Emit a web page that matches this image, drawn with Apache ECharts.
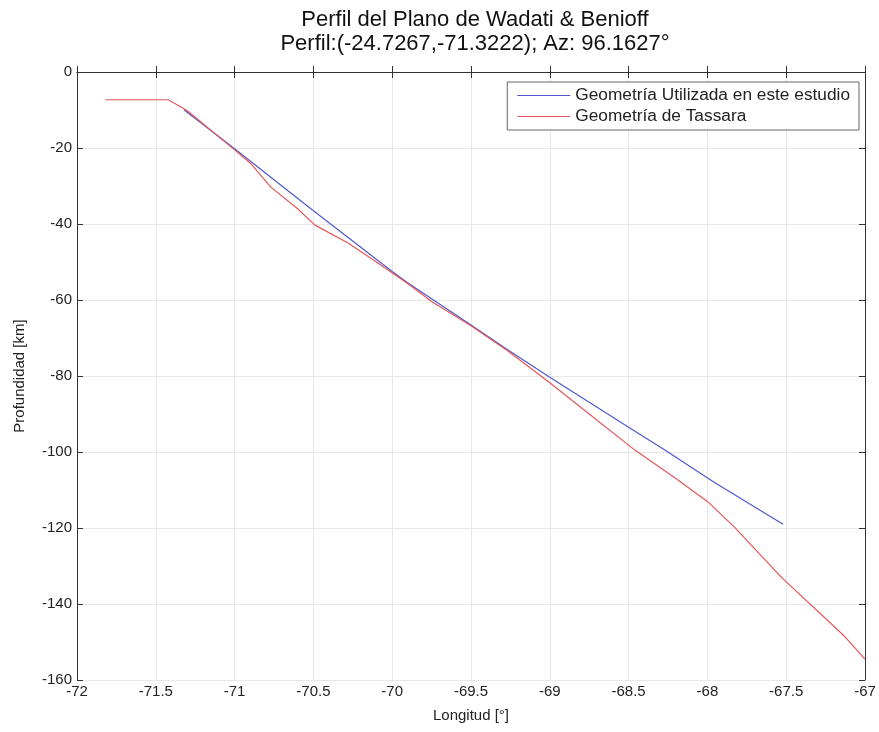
<!DOCTYPE html>
<html>
<head>
<meta charset="utf-8">
<script src="https://cdn.jsdelivr.net/npm/echarts@6/dist/echarts.min.js"></script>
<style>html,body{margin:0;padding:0;background:#fff}#c{width:879px;height:732px}</style>
</head>
<body>
<div id="c"></div>
<script>
const titleText = "Perfil del Plano de Wadati & Benioff\nPerfil:(-24.7267,-71.3222); Az: 96.1627°";
const xAxisName = "Longitud [°]";
const yAxisName = "Profundidad [km]";
const seriesNames = ["Geometría Utilizada en este estudio", "Geometría de Tassara"];
const blueLon = [-71.32, -71.0, -70.5, -70.0, -69.9, -69.5, -69.27, -69.0, -68.5, -68.27, -67.96, -67.52];
const blueDepth = [-10, -20.2, -36.5, -52.5, -55.5, -66.6, -73, -80.3, -93.5, -99.5, -107.9, -119];
const redLon = [-71.82, -71.42, -71.3, -71.0, -70.9, -70.77, -70.6, -70.49, -70.28, -70.1, -69.96, -69.9, -69.75, -69.5, -69.27, -69.0, -68.75, -68.46, -68.2, -68.0, -67.83, -67.53, -67.13, -67.0];
const redDepth = [-7.3, -7.3, -10.2, -20.5, -24, -30.3, -36, -40.3, -45, -50, -54, -55.7, -60.4, -66.8, -73.3, -81.8, -90, -99.5, -107, -113, -119.7, -133, -148.5, -154.5];

const font = "'Liberation Sans', Arial, sans-serif";
const pair = (xs, ys) => xs.map((x, i) => [x, ys[i]]);

const chart = echarts.init(document.getElementById('c'), null, {renderer: 'canvas'});
const gridColor = '#e8e8e8';
const axisCommon = {
  axisLine: {show: true, lineStyle: {color: '#333', width: 1}},
  axisTick: {show: true, inside: true, length: 6, lineStyle: {color: '#333'}},
};
chart.setOption({
  animation: false,
  backgroundColor: '#fff',
  title: {
    text: titleText,
    left: 470, top: 3, textAlign: 'center',
    textStyle: {fontFamily: font, fontSize: 22, fontWeight: 'normal', color: '#111', lineHeight: 24}
  },
  legend: {
    data: seriesNames,
    orient: 'vertical',
    right: 20, top: 82,
    backgroundColor: '#fff',
    borderColor: '#666', borderWidth: 1,
    padding: [5, 9, 5, 10],
    itemGap: 4,
    itemWidth: 53, itemHeight: 1,
    icon: 'rect',
    textStyle: {fontFamily: font, fontSize: 17.3, color: '#222', lineHeight: 17}
  },
  grid: {left: 77, right: 14, top: 72, bottom: 52, containLabel: false},
  xAxis: [{
    type: 'value', min: -72, max: -67, interval: 0.5,
    name: xAxisName, nameLocation: 'middle', nameGap: 28,
    nameTextStyle: {fontFamily: font, fontSize: 15, color: '#222'},
    axisLabel: {fontFamily: font, fontSize: 15, color: '#222', margin: 4},
    splitLine: {show: true, lineStyle: {color: gridColor, width: 1}},
    ...axisCommon
  }, {
    type: 'value', min: -72, max: -67, interval: 0.5, position: 'top',
    axisLabel: {show: false}, splitLine: {show: false},
    ...axisCommon
  }],
  yAxis: [{
    type: 'value', min: -160, max: 0, interval: 20,
    name: yAxisName, nameLocation: 'middle', nameGap: 50, nameRotate: 90,
    nameTextStyle: {fontFamily: font, fontSize: 15, color: '#222'},
    axisLabel: {fontFamily: font, fontSize: 15, color: '#222', margin: 5},
    splitLine: {show: true, lineStyle: {color: gridColor, width: 1}},
    ...axisCommon
  }, {
    type: 'value', min: -160, max: 0, interval: 20, position: 'right',
    axisLabel: {show: false}, splitLine: {show: false},
    ...axisCommon
  }],
  series: [{
    name: seriesNames[0], type: 'line', data: pair(blueLon, blueDepth),
    showSymbol: false, symbol: 'none', smooth: false,
    lineStyle: {color: '#5059cc', width: 1.2}, itemStyle: {color: '#5059cc'}, z: 3
  }, {
    name: seriesNames[1], type: 'line', data: pair(redLon, redDepth),
    showSymbol: false, symbol: 'none', smooth: false,
    lineStyle: {color: '#e4575a', width: 1.2}, itemStyle: {color: '#e4575a'}, z: 4
  }]
});
</script>
</body>
</html>
